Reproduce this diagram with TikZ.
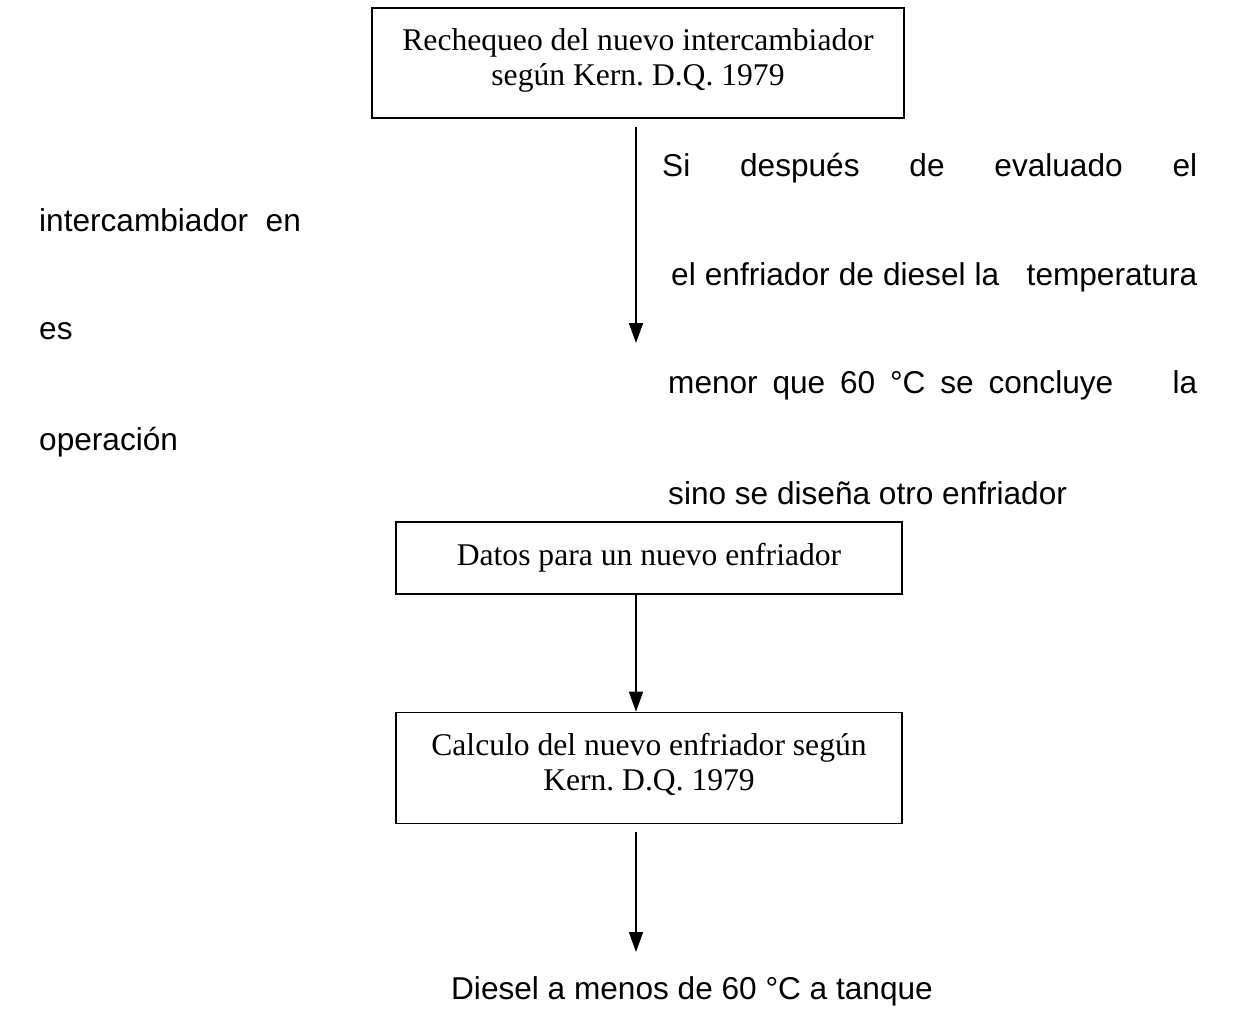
\documentclass[tikz,border=0pt]{standalone}
\usepackage{fontspec}
\setmainfont{Liberation Serif}
\newfontfamily\arialfont{Liberation Sans}
\usetikzlibrary{arrows.meta}
\newcommand\boxfont{\frenchspacing\fontsize{31.6}{35}\selectfont}
\newcommand\notefont{\frenchspacing\arialfont\fontsize{31.6}{38}\selectfont}
\begin{document}
\begin{tikzpicture}[x=1pt,y=-1pt,
  flowbox/.style={draw, line width=1.6pt, inner sep=0pt, align=center, font=\boxfont},
  flowarrow/.style={line width=1.6pt, -{Triangle[length=20pt,width=14pt]}},
  note/.style={anchor=base west, inner sep=0pt, font=\notefont}]
\useasboundingbox (0,0) rectangle (1236,1010);

% process boxes
\node[flowbox, minimum width=532, minimum height=110] (recheck) at (638,63)
  {Rechequeo del nuevo intercambiador\\según Kern. D.Q. 1979\rule[-12pt]{0pt}{0pt}};
\node[flowbox, minimum width=506, minimum height=72] (datos) at (649,558)
  {Datos para un nuevo enfriador};
\node[flowbox, minimum width=506, minimum height=111] (calc) at (649,768)
  {Calculo del nuevo enfriador según\\Kern. D.Q. 1979\rule[-12pt]{0pt}{0pt}};

% connectors
\coordinate (a1s) at (636,127);
\coordinate (a1e) at (636,343);
\coordinate (a3s) at (636,832);
\coordinate (a3e) at (636,952);
\draw[flowarrow] (a1s) -- (a1e);
\draw[flowarrow] (datos.south -| a1s) -- (calc.north -| a1s);
\draw[flowarrow] (a3s) -- (a3e);

% justified paragraph beside the first connector
\node[note] (l1) at (662,176) {\makebox[535pt][s]{Si después de evaluado el}};
\node[note] (l2) at (39,231) {intercambiador\ \ en};
\node[note] (l3) at (671,285) {\makebox[526pt][s]{el enfriador de diesel la\ \ \ temperatura}};
\node[note] (l4) at (39,339) {es};
\node[note] (l5) at (668,393) {\makebox[529pt][s]{menor que 60 °C se concluye\ \ \ \ la}};
\node[note] (l6) at (39,450) {operación};
\node[note] (l7) at (668,504) {sino se diseña otro enfriador};

% final output
\node[anchor=base, inner sep=0pt, font=\notefont] (out) at (692,999)
  {Diesel a menos de 60 °C a tanque};
\end{tikzpicture}
\end{document}
